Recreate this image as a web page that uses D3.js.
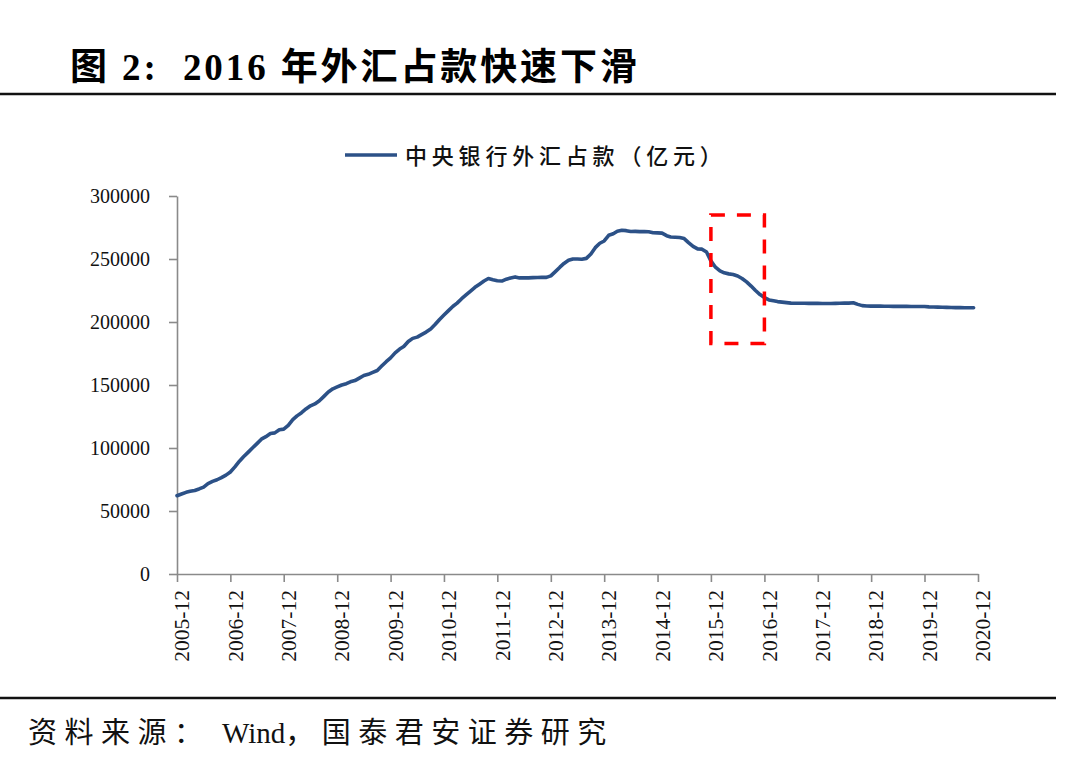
<!DOCTYPE html>
<html>
<head>
<meta charset="utf-8">
<script src="https://cdn.jsdelivr.net/npm/d3@7/dist/d3.min.js"></script>
<style>
  html, body { margin: 0; padding: 0; background: #fff; }
  svg { display: block; }
</style>
</head>
<body>
<svg id="chart" width="1080" height="776"></svg>
<script>
// ---------------- DATA ----------------
const titleText = "图 2:  2016 年外汇占款快速下滑";
const seriesName = "中央银行外汇占款（亿元）";
const sourceLabel = "资料来源：";
const sourceText = "Wind，国泰君安证券研究";
const startMonth = "2005-12";           // first monthly observation
// 央行外汇占款, 亿元, monthly from 2005-12
const fxReserves = [
  62140, 63500, 64800, 65600, 66300, 67500, 69000, 71800, 73500, 74800, 76500, 78500,
  81000, 85000, 89500, 93000, 96500, 100000, 103500, 107000, 109000, 111500, 112000, 114500,
  115000, 118000, 122500, 125500, 128000, 131000, 133500, 135000, 137500, 141000, 144500, 147000,
  148500, 150000, 151000, 152500, 153500, 155500, 157500, 158500, 160000, 161500, 165000, 168500,
  171500, 175500, 178500, 180500, 184500, 187000, 188000, 190000, 192000, 194500, 198000, 202000,
  205500, 209000, 212500, 215000, 218500, 221500, 224500, 227500, 230000, 232500, 234500, 233500,
  232800, 232500, 234000, 235000, 235800, 235000, 235000, 235000, 235200, 235300, 235500, 235400,
  236600, 240000, 243500, 246500, 249000, 250000, 250000, 249800, 250500, 254000, 259000, 262500,
  264300, 268800, 270000, 272000, 272800, 272500, 271800, 271900, 271700, 271800, 271600, 270800,
  270700, 270500, 268500, 267500, 267300, 267000, 266200, 263000, 260000, 258000, 257800, 255500,
  248500, 243500, 240500, 239000, 238200, 237700, 236500, 234500, 231800, 228500, 225000, 221800,
  219400, 217500, 216800, 216200, 215800, 215400, 215000, 214900, 214900, 214900, 214800, 214800,
  214800, 214700, 214700, 214700, 214800, 214900, 215000, 215000, 215300, 214000, 213000, 212700,
  212600, 212600, 212600, 212500, 212500, 212400, 212400, 212400, 212400, 212300, 212300, 212300,
  212300, 212000, 211900, 211800, 211700, 211600, 211500, 211400, 211400, 211300, 211300, 211300
];
const xTickLabels = ["2005-12","2006-12","2007-12","2008-12","2009-12","2010-12","2011-12","2012-12",
  "2013-12","2014-12","2015-12","2016-12","2017-12","2018-12","2019-12","2020-12"];
const yTickValues = [0, 50000, 100000, 150000, 200000, 250000, 300000];
// highlighted window (red dashed box)
const boxPeriod = ["2015-12", "2016-12"];
const boxRange = [183000, 285000];

// ---------------- LAYOUT ----------------
const svg = d3.select("#chart");
const plot = { left: 177, right: 978, top: 196, bottom: 574 };
const parseM = d3.timeParse("%Y-%m");
const fmtM = d3.timeFormat("%Y-%m");
const axisColor = "#8a8a8a";
const lineColor = "#2C5187";
const serif = "'Liberation Serif','Times New Roman',serif";
const cjk = "'Liberation Serif','Noto Sans CJK SC',serif";

const start = parseM(startMonth);
const points = fxReserves.map((v, i) => ({ date: d3.timeMonth.offset(start, i), value: v }));

const x = d3.scaleTime()
  .domain([parseM(xTickLabels[0]), parseM(xTickLabels[xTickLabels.length - 1])])
  .range([plot.left, plot.right]);
const y = d3.scaleLinear().domain([0, 300000]).range([plot.bottom, plot.top]);

// Title
svg.append("text")
  .attr("x", 70).attr("y", 80)
  .attr("font-family", cjk)
  .attr("font-weight", 700)
  .attr("font-size", 37)
  .attr("letter-spacing", 2.9)
  .attr("xml:space", "preserve")
  .style("white-space", "pre")
  .text(titleText);

// rules
svg.append("line").attr("x1", 0).attr("x2", 1056).attr("y1", 94).attr("y2", 94)
  .attr("stroke", "#111").attr("stroke-width", 2.5);
svg.append("line").attr("x1", 0).attr("x2", 1056).attr("y1", 698).attr("y2", 698)
  .attr("stroke", "#111").attr("stroke-width", 2.5);

// Legend
svg.append("line").attr("x1", 345).attr("x2", 397).attr("y1", 155).attr("y2", 155)
  .attr("stroke", lineColor).attr("stroke-width", 3.5);
svg.append("text")
  .attr("x", 405).attr("y", 163.5)
  .attr("font-family", cjk)
  .attr("font-size", 22)
  .attr("font-weight", 500)
  .attr("letter-spacing", 4.8)
  .attr("fill", "#111")
  .text(seriesName);

// Y axis
const yAxis = svg.append("g")
  .attr("transform", `translate(${plot.left},0)`)
  .call(d3.axisLeft(y).tickValues(yTickValues).tickFormat(d3.format("d")).tickSize(8).tickSizeOuter(0).tickPadding(19));
yAxis.select(".domain").attr("stroke", axisColor).attr("stroke-width", 1.6);
yAxis.selectAll(".tick line").attr("stroke", axisColor).attr("stroke-width", 1.6);
yAxis.selectAll(".tick text")
  .attr("font-family", serif).attr("font-size", 20).attr("fill", "#111").attr("dy", "0.34em");

// X axis
const xAxis = svg.append("g")
  .attr("transform", `translate(0,${plot.bottom})`)
  .call(d3.axisBottom(x).tickValues(xTickLabels.map(parseM)).tickFormat(fmtM).tickSize(8).tickSizeOuter(0));
xAxis.select(".domain").attr("stroke", axisColor).attr("stroke-width", 1.6);
xAxis.selectAll(".tick line").attr("stroke", axisColor).attr("stroke-width", 1.6);
xAxis.selectAll(".tick text")
  .attr("font-family", serif).attr("font-size", 21.5).attr("fill", "#111")
  .attr("text-anchor", "end")
  .attr("transform", "rotate(-90)")
  .attr("x", -16).attr("y", 4).attr("dy", "0.36em")
  .attr("dx", 0);

// Series line
svg.append("path")
  .datum(points)
  .attr("fill", "none")
  .attr("stroke", lineColor)
  .attr("stroke-width", 3.6)
  .attr("stroke-linejoin", "round")
  .attr("stroke-linecap", "round")
  .attr("d", d3.line().x(d => x(d.date)).y(d => y(d.value)));

// Red dashed highlight box
const bx0 = x(parseM(boxPeriod[0])), bx1 = x(parseM(boxPeriod[1]));
const by0 = y(boxRange[1]), by1 = y(boxRange[0]);
svg.append("rect")
  .attr("x", bx0).attr("y", by0)
  .attr("width", bx1 - bx0).attr("height", by1 - by0)
  .attr("fill", "none")
  .attr("stroke", "#FF0000")
  .attr("stroke-width", 3.5)
  .attr("stroke-dasharray", "14,12");

// Source
const src = svg.append("text")
  .attr("y", 743)
  .attr("font-family", cjk)
  .attr("font-size", 29)
  .attr("fill", "#111");
src.append("tspan").attr("x", 28).attr("letter-spacing", 7.5).text(sourceLabel);
src.append("tspan").attr("x", 222).attr("letter-spacing", 0).text("Wind");
src.append("tspan").attr("letter-spacing", 7.5).text(sourceText.replace("Wind", ""));
</script>
</body>
</html>
